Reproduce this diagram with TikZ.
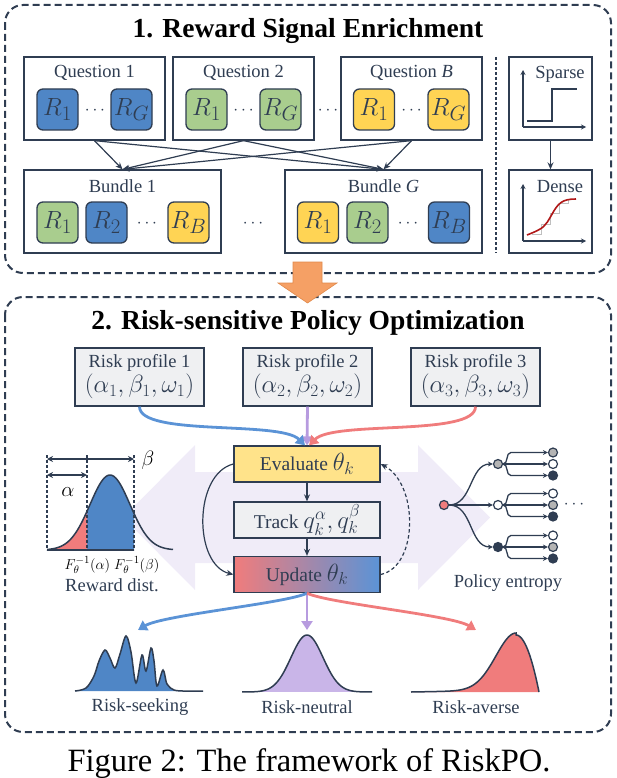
\documentclass[tikz,border=0pt]{standalone}
\usepackage{fontspec}
\setmainfont{Liberation Serif}
\usetikzlibrary{arrows.meta,calc}
\definecolor{navy}{HTML}{2F3D52}
\definecolor{rblue}{HTML}{4F86C6}
\definecolor{rgreen}{HTML}{A9CD8E}
\definecolor{ryellow}{HTML}{FFD454}
\definecolor{evyellow}{HTML}{FFE38A}
\definecolor{lgrey}{HTML}{EFF0F2}
\definecolor{cblue}{HTML}{5B93D6}
\definecolor{cpurple}{HTML}{B79BDF}
\definecolor{cred}{HTML}{F07C7C}
\definecolor{npurple}{HTML}{C9B5E8}
\definecolor{lav}{HTML}{F0ECF8}
\definecolor{orng}{HTML}{F5A065}
\definecolor{orngd}{HTML}{E0894A}
\definecolor{dred}{HTML}{B01818}
\definecolor{ngrey}{HTML}{B4B4B4}
\newcommand{\mathsz}[2]{{\fontsize{#1}{#1}\selectfont$#2$}}
\tikzset{
  frame/.style={draw=navy, line width=2pt, dash pattern=on 7pt off 4pt, rounded corners=18pt},
  wbox/.style={draw=navy, line width=1.3pt, fill=white, inner sep=0pt},
  rbox/.style={draw=navy, line width=1.3pt, rounded corners=6pt, minimum width=41pt, minimum height=41pt, inner sep=0pt, font=\fontsize{28}{28}\selectfont, text=navy},
  lbl/.style={text=navy, font=\fontsize{18.5}{21}\selectfont, inner sep=0pt},
  dots/.style={text=navy, font=\fontsize{18}{18}\selectfont, inner sep=0pt},
  conn/.style={draw=navy, line width=1.2pt, -{Stealth[length=7pt,width=6pt]}},
  stepbox/.style={draw=navy, line width=1.3pt, minimum width=146pt, minimum height=36pt, inner sep=0pt, text=navy, font=\fontsize{19.5}{21}\selectfont},
  rpbox/.style={draw=navy, line width=1.3pt, fill=lgrey, minimum width=129pt, minimum height=58pt, inner sep=0pt, align=center, text=navy, font=\fontsize{18.5}{25}\selectfont},
  carrow/.style={line width=2.8pt, -{Triangle[length=9pt,width=11pt]}},
  tnode/.style={circle, draw=navy, line width=1.2pt, minimum size=9pt, inner sep=0pt},
  tarrow/.style={draw=navy, line width=1.3pt, -{Stealth[length=5pt,width=5pt]}},
  axis/.style={draw=navy, line width=1.4pt, -{Stealth[length=5pt,width=5pt]}},
  curveline/.style={draw=navy, line width=1.5pt},
}
\begin{document}
\begin{tikzpicture}[x=1pt,y=-1pt]
\useasboundingbox (0,0) rectangle (617,778);

% ===== Section 1 =====
\draw[frame] (5,5) rectangle (611,273);
\node[font=\fontsize{27.5}{30}\selectfont\bfseries] (t1) at (308,31) {1. Reward Signal Enrichment};

\node[wbox, minimum width=141pt, minimum height=83pt] (q1) at (94.5,98.5) {};
\node[wbox, minimum width=141pt, minimum height=83pt] (q2) at (243.5,98.5) {};
\node[wbox, minimum width=141pt, minimum height=83pt] (qb) at (411.5,98.5) {};
\node[lbl] (q1t) at (94.5,73) {Question 1};
\node[lbl] (q2t) at (243.5,73) {Question 2};
\node[lbl] (qbt) at (411.5,73) {Question \textit{B}};

\node[rbox, fill=rblue] (q1r1) at (57.5,109.5) {$R_1$};
\node[dots] (q1d) at (95,111) {$\cdots$};
\node[rbox, fill=rblue] (q1rg) at (131.5,109.5) {$R_G$};
\node[rbox, fill=rgreen] (q2r1) at (206.5,109.5) {$R_1$};
\node[dots] (q2d) at (243.5,111) {$\cdots$};
\node[rbox, fill=rgreen] (q2rg) at (280.5,109.5) {$R_G$};
\node[dots] (qqd) at (328,111) {$\cdots$};
\node[rbox, fill=ryellow] (qbr1) at (374,109.5) {$R_1$};
\node[dots] (qbd) at (411.5,111) {$\cdots$};
\node[rbox, fill=ryellow] (qbrg) at (448.5,109.5) {$R_G$};

\node[wbox, minimum width=197pt, minimum height=83pt] (b1) at (122.5,211.5) {};
\node[wbox, minimum width=197pt, minimum height=83pt] (bg) at (383.5,211.5) {};
\node[lbl] (b1t) at (122.5,186) {Bundle 1};
\node[lbl] (bgt) at (383.5,186) {Bundle \textit{G}};

\node[rbox, fill=rgreen] (b1r1) at (57.5,222.5) {$R_1$};
\node[rbox, fill=rblue] (b1r2) at (106.5,222.5) {$R_2$};
\node[dots] (b1d) at (147,224) {$\cdots$};
\node[rbox, fill=ryellow] (b1rb) at (188.5,222.5) {$R_B$};
\node[dots] (bbd) at (253,224) {$\cdots$};
\node[rbox, fill=ryellow] (bgr1) at (318,222.5) {$R_1$};
\node[rbox, fill=rgreen] (bgr2) at (367.5,222.5) {$R_2$};
\node[dots] (bgd) at (408,224) {$\cdots$};
\node[rbox, fill=rblue] (bgrb) at (449,222.5) {$R_B$};

\foreach \q in {q1,q2,qb}{
  \draw[conn] (\q.south) -- (b1.north);
  \draw[conn] (\q.south) -- (bg.north);
}

\coordinate (vt) at (496,57);
\coordinate (vb) at (496,253);
\draw[navy, line width=1.2pt, dash pattern=on 3pt off 2pt] (vt) -- (vb);

% Sparse / Dense
\node[wbox, minimum width=83pt, minimum height=83pt] (sp) at (550.5,98.5) {};
\node[wbox, minimum width=83pt, minimum height=83pt] (de) at (550.5,211.5) {};
\draw[conn] (sp.south) -- (de.north);
\node[lbl] (spt) at (560,74) {Sparse};
\node[lbl] (det) at (560,187) {Dense};
\coordinate (so) at (523,127);
\draw[axis] (so) -- (523,70);
\draw[axis] (so) -- (586,127);
\draw[navy, line width=1.4pt] (527,121) -- (552,121) -- (552,89) -- (577,89);
\coordinate (dorig) at (523,241);
\draw[axis] (dorig) -- (523,184);
\draw[axis] (dorig) -- (586,241);
\draw[black!25, line width=1pt] (532,234) -- (541,234) -- (541,224) -- (550,224) -- (550,213) -- (559,213) -- (559,203) -- (568,203) -- (568,199) -- (576,199);
\draw[dred, line width=1.6pt] (527,235) .. controls (545,228) and (545,226) .. (551,216) .. controls (558,203) and (562,199) .. (576,199);

% ===== Section 2 =====
\draw[frame] (5,297) rectangle (611,732);

% orange arrow
\draw[fill=orng, draw=orngd, line width=0.6pt] (293,262) -- (322,262) -- (322,283) -- (337,283) -- (307.5,303) -- (278,283) -- (293,283) -- cycle;

\node[font=\fontsize{27.5}{30}\selectfont\bfseries] (t2) at (308,323) {2. Risk-sensitive Policy Optimization};

% lavender double arrow
\fill[lav] (123,517.5) -- (195,445) -- (195,472) -- (418,472) -- (418,445) -- (490,517.5) -- (418,590) -- (418,563) -- (195,563) -- (195,590) -- cycle;

\node[rpbox] (rp1) at (139.5,377) {Risk profile 1\\\mathsz{24}{(\alpha_1,\beta_1,\omega_1)}};
\node[rpbox] (rp2) at (307.5,377) {Risk profile 2\\\mathsz{24}{(\alpha_2,\beta_2,\omega_2)}};
\node[rpbox] (rp3) at (475.5,377) {Risk profile 3\\\mathsz{24}{(\alpha_3,\beta_3,\omega_3)}};

\node[stepbox, fill=evyellow] (ev) at (307,464) {Evaluate \mathsz{24}{\theta_k}};
\node[stepbox, fill=lgrey] (tr) at (307,520) {Track \mathsz{24}{q_k^{\alpha}, q_k^{\beta}}};
\node[stepbox, left color=cred, right color=cblue] (up) at (307,574.5) {Update \mathsz{24}{\theta_k}};
\draw[conn] (ev.south) -- (tr.north);
\draw[conn] (tr.south) -- (up.north);
\draw[conn] (ev.west) .. controls +(-40,10) and +(-40,-10) .. (up.west);
\draw[conn, dash pattern=on 3.5pt off 2.5pt] (up.east) .. controls +(38,-8) and +(38,20) .. (ev.east);

\draw[carrow, cpurple] (rp2.south) -- (ev.north);
\draw[carrow, cblue] (rp1.south) .. controls +(0,30) and +(-25,-25) .. ([xshift=-2pt]ev.north);
\draw[carrow, cred] (rp3.south) .. controls +(0,30) and +(25,-25) .. ([xshift=2pt]ev.north);

% reward distribution
\begin{scope}
\clip (87,440) rectangle (134,551);
\fill[rblue] (47,550) -- plot[domain=-63:63, samples=80] ({110+\x},{550-75*exp(-\x*\x/800)}) -- (173,550) -- cycle;
\end{scope}
\begin{scope}
\clip (40,440) rectangle (87,551);
\fill[cred] (47,550) -- plot[domain=-63:63, samples=80] ({110+\x},{550-75*exp(-\x*\x/800)}) -- (173,550) -- cycle;
\end{scope}
\draw[curveline] plot[domain=-63:63, samples=80] ({110+\x},{550-75*exp(-\x*\x/800)});
\foreach \xx in {47,87,134}{
  \draw[navy, line width=1.1pt, dash pattern=on 3pt off 2pt] (\xx,455) -- (\xx,550);
}
\draw[navy, line width=1.1pt] (47,550) -- (134,550);
\coordinate (ba) at (47,459);
\coordinate (bb) at (134,459);
\coordinate (aa) at (47,475);
\coordinate (ab) at (87,475);
\draw[navy, line width=1.3pt, {Stealth[length=6pt,width=6pt]}-{Stealth[length=6pt,width=6pt]}] (ba) -- (bb);
\draw[navy, line width=1.3pt, {Stealth[length=6pt,width=6pt]}-{Stealth[length=6pt,width=6pt]}] (aa) -- (ab);
\node[font=\fontsize{22}{22}\selectfont] (betal) at (148,460) {$\beta$};
\node[font=\fontsize{22}{22}\selectfont] (alphal) at (68,492) {$\alpha$};
\node[font=\fontsize{15.5}{16}\selectfont, inner sep=0pt] (fl) at (112,565) {$F_\theta^{-1}(\alpha)\;F_\theta^{-1}(\beta)$};
\node[lbl] (rdt) at (112,585) {Reward dist.};

% policy entropy tree
\node[tnode, fill=cred] (root) at (444,505) {};
\node[tnode, fill=ngrey] (n1) at (498,464) {};
\node[tnode, fill=white] (n2) at (498,505) {};
\node[tnode, fill=navy] (n3) at (498,547) {};
\node[tnode, fill=ngrey] (l11) at (553,452.5) {};
\node[tnode, fill=white] (l12) at (553,464) {};
\node[tnode, fill=navy] (l13) at (553,475.5) {};
\node[tnode, fill=white] (l21) at (553,493.5) {};
\node[tnode, fill=ngrey] (l22) at (553,505) {};
\node[tnode, fill=navy] (l23) at (553,516.5) {};
\node[tnode, fill=white] (l31) at (553,535.5) {};
\node[tnode, fill=ngrey] (l32) at (553,547) {};
\node[tnode, fill=navy] (l33) at (553,558.5) {};
\draw[tarrow] (root) to[out=0,in=180] (n1);
\draw[tarrow] (root) -- (n2);
\draw[tarrow] (root) to[out=0,in=180] (n3);
\foreach \n/\a/\b/\c in {n1/l11/l12/l13, n2/l21/l22/l23, n3/l31/l32/l33}{
  \draw[tarrow] (\n.east) to[out=0,in=180] ([xshift=-37pt]\a.west) -- (\a.west);
  \draw[tarrow] (\n.east) -- (\b.west);
  \draw[tarrow] (\n.east) to[out=0,in=180] ([xshift=-37pt]\c.west) -- (\c.west);
}
\node[dots] (ted) at (574,505) {$\cdots$};
\node[lbl] (pet) at (508,583) {Policy entropy};

% outcome arrows
\coordinate (sk) at (138,630);
\coordinate (ne) at (307,630);
\coordinate (av) at (476,630);
\draw[carrow, cpurple] (up.south) -- (ne);
\draw[carrow, cblue] (up.south) .. controls +(-20,10) and +(25,-15) .. (sk);
\draw[carrow, cred] (up.south) .. controls +(20,10) and +(-25,-15) .. (av);

% risk-seeking
\draw[curveline, fill=rblue] plot[smooth, tension=0.55] coordinates {(75,691) (86,688) (94,676) (99,661) (105,650) (110,658) (115,668) (120,654) (126,636) (131,652) (136,683) (142,655) (146,671) (151,648) (154,661) (157,686) (163,670) (167,684) (174,690) (184,691)} -- (203,691);
\node[lbl] (rst) at (140,707) {Risk-seeking};

% risk-neutral
\draw[curveline, fill=npurple] plot[domain=-65:65, samples=80] ({307+\x},{692-57*exp(-\x*\x/512)});
\node[lbl] (rnt) at (307,707) {Risk-neutral};

% risk-averse
\draw[curveline, fill=cred] plot[domain=-105:0, samples=80] ({516+\x},{692-57*exp(-\x*\x/800)-2*(1+\x/105)}) -- plot[domain=0:23, samples=30] ({516+\x},{692-57*(1-\x*\x/529)});
\node[lbl] (rat) at (476,707) {Risk-averse};

% caption
\node[font=\fontsize{32.5}{36}\selectfont, anchor=base, inner sep=0pt] (cap) at (309,771) {Figure 2: The framework of RiskPO.};
\end{tikzpicture}
\end{document}
